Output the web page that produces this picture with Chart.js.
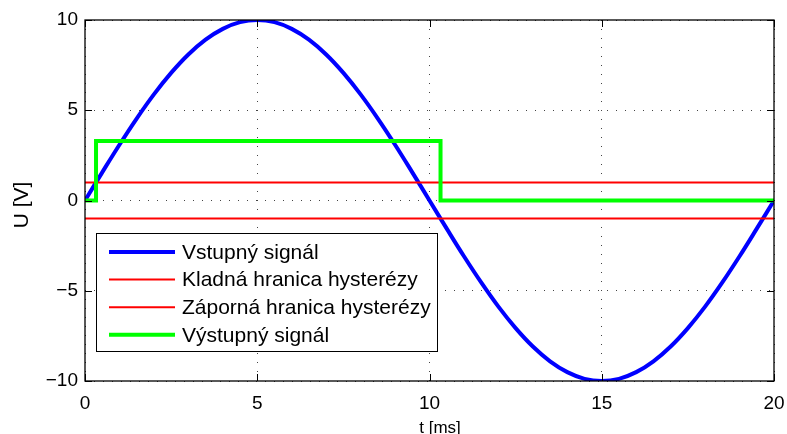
<!DOCTYPE html>
<html>
<head>
<meta charset="utf-8">
<script src="https://cdn.jsdelivr.net/npm/chart.js@4"></script>
<style>
  body { margin: 0; background: #fff; }
  #wrap { width: 787px; height: 434px; position: relative; }
</style>
</head>
<body>
<div id="wrap"><canvas id="hystChart"></canvas></div>
<script>
// DATA
const timeMs = [0, 0.5, 1, 1.5, 2, 2.5, 3, 3.5, 4, 4.5, 5, 5.5, 6, 6.5, 7, 7.5, 8, 8.5, 9, 9.5, 10,
                10.5, 11, 11.5, 12, 12.5, 13, 13.5, 14, 14.5, 15, 15.5, 16, 16.5, 17, 17.5, 18, 18.5, 19, 19.5, 20];
const inputV = [0, 1.56, 3.09, 4.54, 5.88, 7.07, 8.09, 8.91, 9.51, 9.88, 10, 9.88, 9.51, 8.91, 8.09, 7.07, 5.88, 4.54, 3.09, 1.56, 0,
                -1.56, -3.09, -4.54, -5.88, -7.07, -8.09, -8.91, -9.51, -9.88, -10, -9.88, -9.51, -8.91, -8.09, -7.07, -5.88, -4.54, -3.09, -1.56, 0];
const upperT = [0, 20];
const upperV = [1, 1];
const lowerT = [0, 20];
const lowerV = [-1, -1];
const outputT = [0, 0.32, 0.32, 10.32, 10.32, 20];
const outputV = [0, 0, 3.3, 3.3, 0, 0];
const xTicks = [0, 5, 10, 15, 20];
const yTicks = [-10, -5, 0, 5, 10];
const labels = ["Vstupný signál", "Kladná hranica hysterézy", "Záporná hranica hysterézy", "Výstupný signál"];

const FONT = "Liberation Sans, Arial, Helvetica, sans-serif";

function toPoints(xs, ys) {
    return xs.map((x, i) => ({ x: x, y: ys[i] }));
}

// inward ticks, frame, axis titles and the legend box
const matlabLook = {
    id: "matlabLook",
    afterDatasetsDraw(chart) {
        const c = chart.ctx;
        const a = chart.chartArea;
        const xs = chart.scales.x;
        const ys = chart.scales.y;
        const tl = 7;

        c.save();
        c.strokeStyle = "#000";
        c.lineWidth = 1;
        c.beginPath();
        xTicks.forEach(v => {
            const px = Math.round(xs.getPixelForValue(v)) + 0.5;
            c.moveTo(px, a.bottom); c.lineTo(px, a.bottom - tl);
            c.moveTo(px, a.top); c.lineTo(px, a.top + tl);
        });
        yTicks.forEach(v => {
            const py = Math.round(ys.getPixelForValue(v)) + 0.5;
            c.moveTo(a.left, py); c.lineTo(a.left + tl, py);
            c.moveTo(a.right, py); c.lineTo(a.right - tl, py);
        });
        c.stroke();

        c.lineWidth = 1.3;
        c.strokeRect(a.left, a.top, a.right - a.left, a.bottom - a.top);

        // axis titles
        c.fillStyle = "#000";
        c.textAlign = "center";
        c.textBaseline = "alphabetic";
        c.font = "17px " + FONT;
        c.fillText("t [ms]", 440, 433);
        c.font = "21px " + FONT;
        c.textBaseline = "middle";
        c.translate(22, 205);
        c.rotate(-Math.PI / 2);
        c.fillText("U [V]", 0, 0);
        c.restore();

        // legend
        c.save();
        const bx = 96, by = 233, bw = 341, bh = 118;
        c.fillStyle = "#fff";
        c.fillRect(bx, by, bw, bh);
        c.strokeStyle = "#000";
        c.lineWidth = 1;
        c.strokeRect(bx + 0.5, by + 0.5, bw, bh);
        c.font = "21px " + FONT;
        c.textAlign = "left";
        c.textBaseline = "middle";
        chart.data.datasets.forEach((ds, i) => {
            const y = by + 19 + i * 27.6;
            c.strokeStyle = ds.borderColor;
            c.lineWidth = ds.borderWidth;
            c.beginPath();
            c.moveTo(109, y); c.lineTo(175, y);
            c.stroke();
            c.fillStyle = "#000";
            c.fillText(ds.label, 182, y + 1);
        });
        c.restore();
    }
};

const ctx = document.getElementById("hystChart");

const chart = new Chart(ctx, {
    type: "line",
    data: {
        datasets: [
            {
                label: labels[0],
                data: toPoints(timeMs, inputV),
                borderColor: "#0000ff",
                borderWidth: 4,
                tension: 0.4,
                order: 3
            },
            {
                label: labels[1],
                data: toPoints(upperT, upperV),
                borderColor: "#ff0000",
                borderWidth: 2,
                order: 2
            },
            {
                label: labels[2],
                data: toPoints(lowerT, lowerV),
                borderColor: "#ff0000",
                borderWidth: 2,
                order: 1
            },
            {
                label: labels[3],
                data: toPoints(outputT, outputV),
                borderColor: "#00ff00",
                borderWidth: 4,
                order: 0
            }
        ]
    },
    plugins: [matlabLook],
    options: {
        responsive: true,
        maintainAspectRatio: false,
        animation: false,
        layout: { padding: { top: 20, right: 13, left: 0, bottom: 0 } },
        elements: { point: { radius: 0 }, line: { borderJoinStyle: "miter" } },
        plugins: { legend: { display: false }, tooltip: { enabled: false } },
        scales: {
            x: {
                type: "linear",
                min: 0,
                max: 20,
                afterBuildTicks: s => { s.ticks = xTicks.map(v => ({ value: v })); },
                afterFit: s => { s.height = 53; s.paddingLeft = 0; s.paddingRight = 0; },
                border: { display: false, dash: [1, 8] },
                grid: { color: "#444", lineWidth: 1, drawTicks: false },
                ticks: {
                    padding: 11,
                    color: "#000",
                    font: { family: FONT, size: 19 }
                }
            },
            y: {
                min: -10,
                max: 10,
                afterBuildTicks: s => { s.ticks = yTicks.map(v => ({ value: v })); },
                afterFit: s => { s.width = 85; s.paddingTop = 0; s.paddingBottom = 0; },
                border: { display: false, dash: [1, 8] },
                grid: { color: "#444", lineWidth: 1, drawTicks: false },
                ticks: {
                    padding: 7,
                    color: "#000",
                    font: { family: FONT, size: 19 },
                    callback: v => String(v).replace("-", "\u2212")
                }
            }
        }
    }
});
</script>
</body>
</html>
